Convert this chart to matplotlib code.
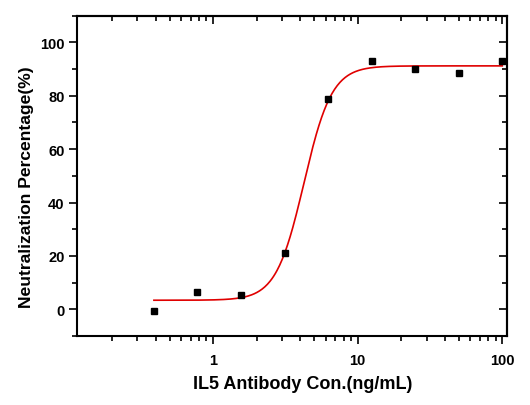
import numpy as np
import matplotlib
matplotlib.use("Agg")
import matplotlib.pyplot as plt
from matplotlib.ticker import LogLocator, FixedLocator, NullFormatter

conc = [0.39, 0.78, 1.5625, 3.125, 6.25, 12.5, 25, 50, 100]
neutral = [-0.7, 6.6, 5.5, 21.0, 78.9, 93.0, 90.1, 88.4, 93.0]

# 4PL fit parameters
fit_bottom = 3.4
fit_top = 91.2
fit_ec50 = 4.25
fit_hill = 4.5

plt.rcParams['font.family'] = ['Liberation Sans', 'DejaVu Sans']
plt.rcParams['font.weight'] = 'bold'

fig = plt.figure(figsize=(5.3, 4.06), dpi=100)
ax = fig.add_axes([77/530, 1-337/406, (507-77)/530, (337-16.7)/406])

xs = np.logspace(np.log10(conc[0]), np.log10(conc[-1]), 400)
ys = fit_bottom + (fit_top - fit_bottom) / (1 + (fit_ec50 / xs) ** fit_hill)
ax.plot(xs, ys, color='#e00000', lw=1.2, zorder=2)
ax.plot(conc, neutral, 's', color='black', ms=5, zorder=3)

ax.set_xscale('log')
ax.set_xlim(0.1146, 107.8)
ax.set_ylim(-10, 110)

def setup_x(a):
    a.xaxis.set_major_locator(FixedLocator([1, 10, 100]))
    a.xaxis.set_minor_locator(LogLocator(base=10, subs=np.arange(2, 10)))
    a.xaxis.set_minor_formatter(NullFormatter())

def setup_y(a):
    a.yaxis.set_major_locator(FixedLocator([0, 20, 40, 60, 80, 100]))
    a.yaxis.set_minor_locator(FixedLocator([-10, 10, 30, 50, 70, 90, 110]))

setup_x(ax)
setup_y(ax)
ax.set_xticklabels(['1', '10', '100'])

ax.tick_params(which='both', direction='out', labelsize=10.5, width=1.2)
ax.tick_params(axis='x', which='major', length=6, pad=6)
ax.tick_params(axis='y', which='major', length=6, pad=3)
ax.tick_params(which='minor', length=3.5)
for s in ax.spines.values():
    s.set_linewidth(1.5)

top = ax.secondary_xaxis('top')
setup_x(top)
top.tick_params(which='both', direction='in', labeltop=False, width=1.2)
top.tick_params(which='major', length=6)
top.tick_params(which='minor', length=3.5)
top.spines['top'].set_linewidth(1.5)
top.set_xticklabels([])

right = ax.secondary_yaxis('right')
setup_y(right)
right.tick_params(which='both', direction='in', labelright=False, width=1.2)
right.tick_params(which='major', length=6)
right.tick_params(which='minor', length=3.5)
right.spines['right'].set_linewidth(1.5)
right.set_yticklabels([])

ax.set_xlabel('IL5 Antibody Con.(ng/mL)', fontsize=13, fontweight='bold')
ax.set_ylabel('Neutralization Percentage(%)', fontsize=12.6, fontweight='bold')
ax.xaxis.set_label_coords(0.526, -0.122)
ax.yaxis.set_label_coords(-0.1, 0.468)

fig.savefig('out.png', dpi=100)
